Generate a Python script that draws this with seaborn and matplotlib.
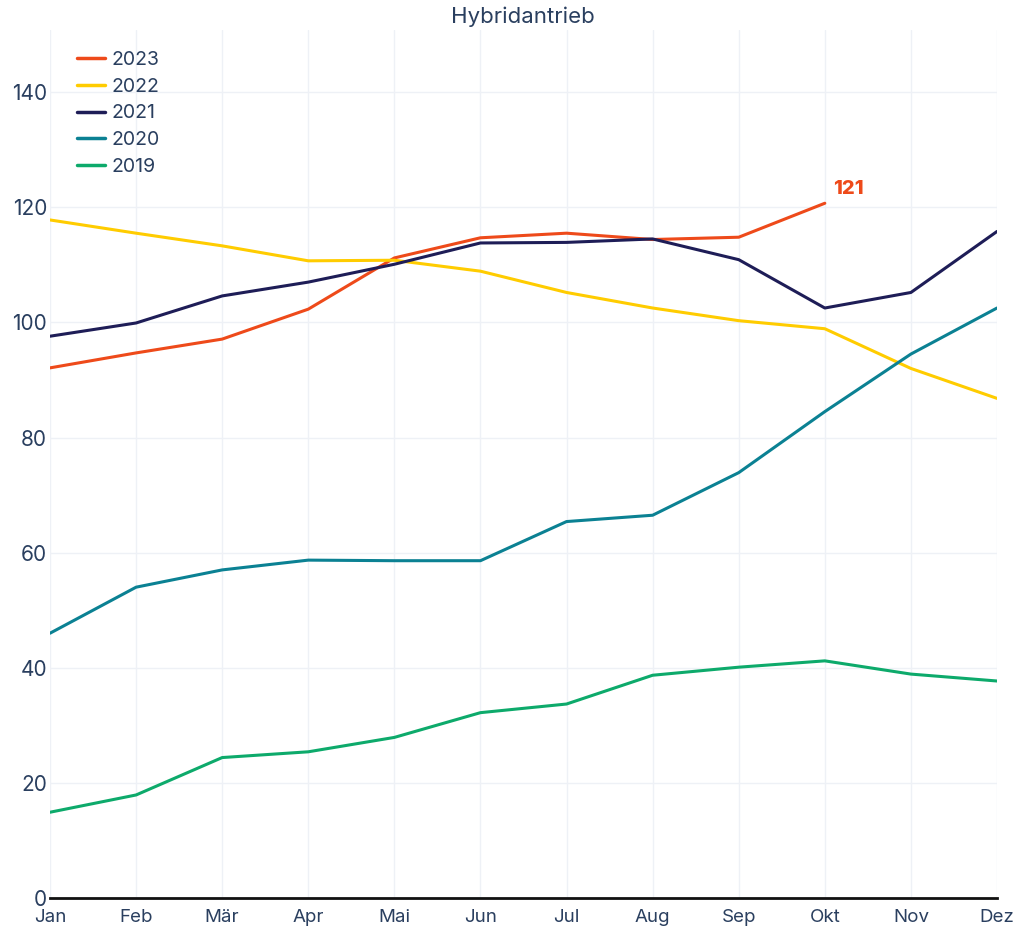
import matplotlib
matplotlib.use("Agg")
import matplotlib.pyplot as plt
import seaborn as sns
import pandas as pd
from matplotlib.lines import Line2D

months = ["Jan", "Feb", "Mär", "Apr", "Mai", "Jun", "Jul", "Aug", "Sep", "Okt", "Nov", "Dez"]
v2023 = [92.1, 94.7, 97.1, 102.3, 111.2, 114.7, 115.5, 114.4, 114.8, 120.7]
v2022 = [117.8, 115.5, 113.3, 110.7, 110.8, 108.9, 105.2, 102.5, 100.3, 98.9, 92.0, 86.8]
v2021 = [97.6, 99.9, 104.6, 107.0, 110.1, 113.8, 113.9, 114.5, 110.9, 102.5, 105.2, 115.8]
v2020 = [46.0, 54.0, 57.0, 58.7, 58.6, 58.6, 65.4, 66.5, 73.9, 84.5, 94.5, 102.5]
v2019 = [14.9, 17.9, 24.4, 25.4, 27.9, 32.2, 33.7, 38.7, 40.1, 41.2, 38.9, 37.7]
years = ["2023", "2022", "2021", "2020", "2019"]
series = [v2023, v2022, v2021, v2020, v2019]
colors = ["#EE4A1A", "#FFCC00", "#1E1D57", "#0B8193", "#0DAA6B"]
yticks = [0, 20, 40, 60, 80, 100, 120, 140]
title = "Hybridantrieb"
last_label = "121"

rows = []
for y, vals in zip(years, series):
    for i, v in enumerate(vals):
        rows.append({"Monat": i, "Wert": v, "Jahr": y})
df = pd.DataFrame(rows)

sns.set_style("white")
plt.rcParams["font.family"] = ["Inter", "DejaVu Sans"]
text_color = "#2A3F5F"

fig = plt.figure(figsize=(10.17, 9.27), dpi=100)
ax = fig.add_axes([50 / 1017, 29 / 927, 947 / 1017, 868 / 927])

sns.lineplot(data=df, x="Monat", y="Wert", hue="Jahr", hue_order=years,
             palette=dict(zip(years, colors)), linewidth=2.2, ax=ax,
             legend=False, sort=False)

ax.set_xlim(0, 11)
ax.set_ylim(0, 150.8)
ax.set_xticks(range(12))
ax.set_xticklabels(months)
ax.set_yticks(yticks)
ax.set_yticklabels([str(t) for t in yticks])
ax.grid(True, color="#EEF1F6", linewidth=1)
ax.set_axisbelow(True)
for s in ["top", "right", "left"]:
    ax.spines[s].set_visible(False)
ax.spines["bottom"].set_color("#111111")
ax.spines["bottom"].set_linewidth(2)
ax.tick_params(axis="both", length=0, colors=text_color)
ax.tick_params(axis="y", labelsize=15, pad=2)
ax.tick_params(axis="x", labelsize=13.5, pad=8)
ax.set_xlabel("")
ax.set_ylabel("")

fig.text(523 / 1017, 1 - 17 / 927, title, ha="center", va="center",
         fontsize=16, color=text_color)

ax.annotate(last_label, xy=(len(v2023) - 1, v2023[-1]), xytext=(6, 10),
            textcoords="offset points", color=colors[0], fontsize=14.5,
            fontweight="heavy", ha="left", va="center")

handles = [Line2D([0], [0], color=c, linewidth=2.5) for c in colors]
leg = ax.legend(handles, years, loc="upper left",
                bbox_to_anchor=(27 / 947, 1 - 21 / 868),
                frameon=False, fontsize=14, handlelength=1.45, handletextpad=0.3,
                labelspacing=0.45, borderaxespad=0, borderpad=0,
                labelcolor=text_color)

fig.savefig("out.png", dpi=100, facecolor="white")
